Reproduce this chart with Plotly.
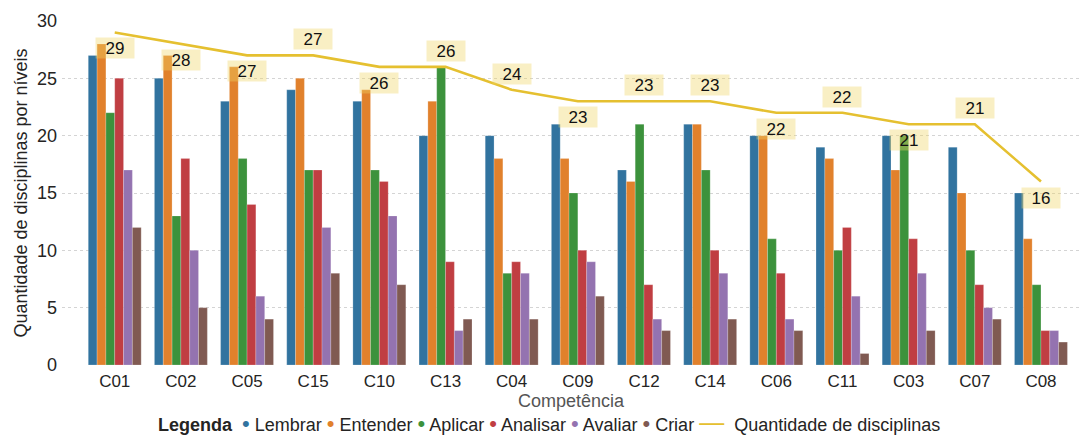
import plotly.graph_objects as go

categories = ["C01", "C02", "C05", "C15", "C10", "C13", "C04", "C09", "C12", "C14", "C06", "C11", "C03", "C07", "C08"]
lembrar  = [27, 25, 23, 24, 23, 20, 20, 21, 17, 21, 20, 19, 20, 19, 15]
entender = [28, 27, 26, 25, 24, 23, 18, 18, 16, 21, 20, 18, 17, 15, 11]
aplicar  = [22, 13, 18, 17, 17, 26, 8, 15, 21, 17, 11, 10, 20, 10, 7]
analisar = [25, 18, 14, 17, 16, 9, 9, 10, 7, 10, 8, 12, 11, 7, 3]
avaliar  = [17, 10, 6, 12, 13, 3, 8, 9, 4, 8, 4, 6, 8, 5, 3]
criar    = [12, 5, 4, 8, 7, 4, 4, 6, 3, 4, 3, 1, 3, 4, 2]
quantidade = [29, 28, 27, 27, 26, 26, 24, 23, 23, 23, 22, 22, 21, 21, 16]

series_names = ["Lembrar", "Entender", "Aplicar", "Analisar", "Avaliar", "Criar"]
series_values = [lembrar, entender, aplicar, analisar, avaliar, criar]
line_name = "Quantidade de disciplinas"

# style
colors = ["#31739f", "#e1812c", "#3c923c", "#c03e42", "#9473b0", "#805a52"]
line_color = "#e5c030"
label_above = [False, False, False, True, False, True, True, False, True, True, False, True, False, True, False]
FONT = "Liberation Sans, Arial, sans-serif"
TXT = "#252423"

fig = go.Figure()
for name, vals, col in zip(series_names, series_values, colors):
    fig.add_trace(go.Bar(
        x=categories, y=vals, name=name,
        marker=dict(color=col, line=dict(color="rgba(255,255,255,0.35)", width=0.6)),
        hoverinfo="x+y+name"))

fig.add_trace(go.Scatter(x=categories, y=quantidade, mode="lines", name=line_name,
                         line=dict(color=line_color, width=2.6)))

for cat, v, above in zip(categories, quantidade, label_above):
    fig.add_annotation(x=cat, y=v, text=str(v), showarrow=False,
                       yshift=16 if above else -16,
                       font=dict(family=FONT, size=17, color="#111"),
                       bgcolor="rgba(238,212,100,0.38)", borderpad=2, width=34, height=16)

# compact legend built as rich text
parts = ["<b>Legenda</b>&nbsp; "]
for name, col in zip(series_names, colors):
    parts.append(f"<span style='color:{col};font-size:22px'>•</span> {name}&nbsp;")
parts.append(f"<span style='color:{line_color};font-size:25px'>—</span>&nbsp; {line_name}")
fig.add_annotation(text="".join(parts), xref="paper", yref="paper", x=0.478, y=-0.166,
                   xanchor="center", yanchor="middle", showarrow=False,
                   font=dict(family=FONT, size=18, color=TXT))

fig.update_layout(
    width=1083, height=437,
    margin=dict(l=62, r=3, t=21, b=72),
    plot_bgcolor="white", paper_bgcolor="white",
    font=dict(family=FONT, size=17, color=TXT),
    barmode="group", bargap=0.2, bargroupgap=0,
    showlegend=False,
    xaxis=dict(type="category", range=[-0.797, 14.59], showline=False, ticks="",
               tickfont=dict(size=17, color=TXT), ticklabelstandoff=4,
               title=dict(text="Competência", font=dict(size=18, color="#555"), standoff=0)),
    yaxis=dict(range=[0, 30], dtick=5, showgrid=True, gridcolor="#d4d4d4", griddash="dot",
               gridwidth=1, zeroline=False, showline=False, ticks="",
               tickfont=dict(size=18, color=TXT), ticklabelstandoff=4,
               title=dict(text="Quantidade de disciplinas por níveis", font=dict(size=18, color=TXT), standoff=4)),
)

fig.write_html("out.html")
